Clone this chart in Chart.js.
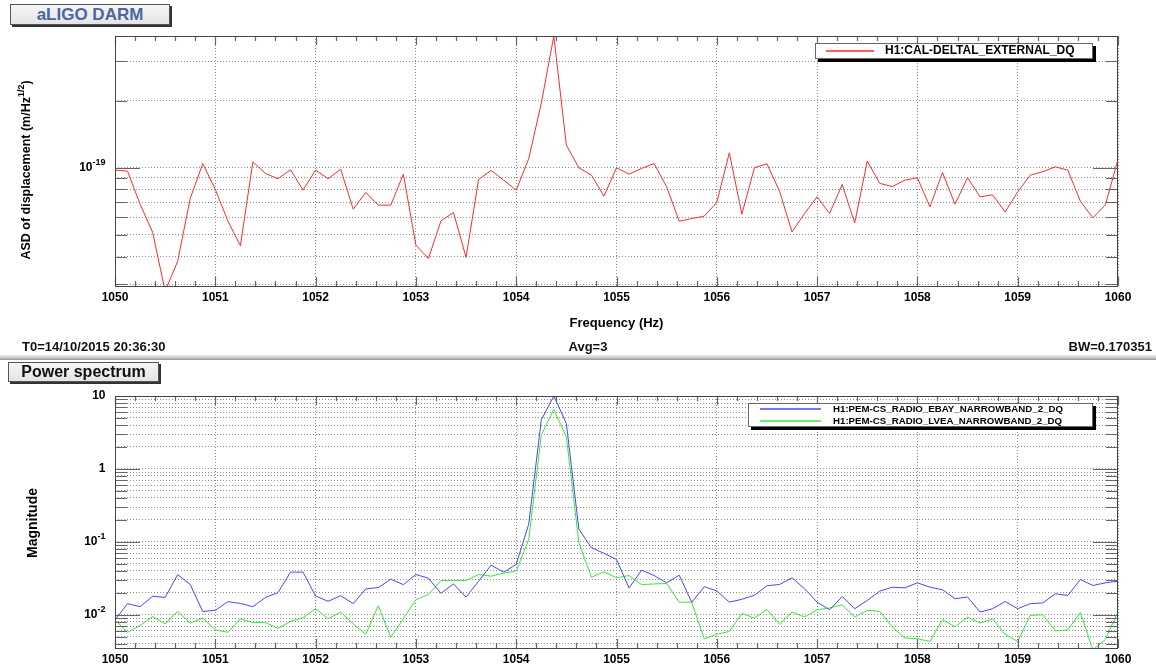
<!DOCTYPE html>
<html>
<head>
<meta charset="utf-8">
<title>aLIGO DARM</title>
<script src="https://cdn.jsdelivr.net/npm/chart.js@4.4.1/dist/chart.umd.min.js"></script>
<style>
  body { margin: 0; width: 1156px; height: 668px; position: relative; overflow: hidden; background: #fff;
         font-family: "Liberation Sans", Arial, Helvetica, sans-serif; font-weight: bold; }
  canvas { position: absolute; left: 0; top: 0; }
  .pave { position: absolute; box-sizing: border-box; text-align: center;
          background: linear-gradient(#f6f6f6, #e4e4e4); border: 1px solid #555; box-shadow: 2px 2px 0 #333; }
  #darmTitle { left: 10px; top: 4px; width: 160px; height: 21px; color: #4a67a4; font-size: 17px; line-height: 19px; }
  #psTitle { left: 8px; top: 362px; width: 151px; height: 20px; color: #111; font-size: 16px; line-height: 18px; }
  .info { position: absolute; top: 339px; font-size: 13px; line-height: 15px; color: #111; }
  #sep { position: absolute; left: 0; top: 355px; width: 1156px; height: 5px;
         background: linear-gradient(#ececec, #c4c4c4 60%, #909090); }
</style>
</head>
<body>
<div id="darmTitle" class="pave">aLIGO DARM</div>
<canvas id="darm" width="1156" height="668"></canvas>
<div class="info" style="left:22px">T0=14/10/2015 20:36:30</div>
<div class="info" style="left:588px;transform:translateX(-50%)">Avg=3</div>
<div class="info" style="right:4px">BW=0.170351</div>
<div id="sep"></div>
<div id="psTitle" class="pave">Power spectrum</div>
<canvas id="power" width="1156" height="668"></canvas>
<script>
const FONT = '"Liberation Sans", Arial, Helvetica, sans-serif';
const RED = '#ff2a2a', BLUE = '#4646ff', GREEN = '#36e836';

// frequency bins (Hz)
const freq = [
  1050, 1050.125, 1050.25, 1050.375, 1050.5, 1050.625, 1050.75, 1050.875,
  1051, 1051.125, 1051.25, 1051.375, 1051.5, 1051.625, 1051.75, 1051.875,
  1052, 1052.125, 1052.25, 1052.375, 1052.5, 1052.625, 1052.75, 1052.875,
  1053, 1053.125, 1053.25, 1053.375, 1053.5, 1053.625, 1053.75, 1053.875,
  1054, 1054.125, 1054.25, 1054.375, 1054.5, 1054.625, 1054.75, 1054.875,
  1055, 1055.125, 1055.25, 1055.375, 1055.5, 1055.625, 1055.75, 1055.875,
  1056, 1056.125, 1056.25, 1056.375, 1056.5, 1056.625, 1056.75, 1056.875,
  1057, 1057.125, 1057.25, 1057.375, 1057.5, 1057.625, 1057.75, 1057.875,
  1058, 1058.125, 1058.25, 1058.375, 1058.5, 1058.625, 1058.75, 1058.875,
  1059, 1059.125, 1059.25, 1059.375, 1059.5, 1059.625, 1059.75, 1059.875,
  1060
];

// H1:CAL-DELTAL_EXTERNAL_DQ, ASD (m/Hz^1/2)
const darmAsd = [
  9.76e-20, 9.66e-20, 6.87e-20, 5.14e-20, 2.8e-20, 3.81e-20, 7.28e-20, 1.045e-19,
  8.0e-20, 5.78e-20, 4.47e-20, 1.064e-19, 9.43e-20, 8.93e-20, 9.8e-20, 7.94e-20,
  9.76e-20, 8.93e-20, 9.86e-20, 6.52e-20, 7.75e-20, 6.8e-20, 6.8e-20, 9.36e-20,
  4.5e-20, 3.92e-20, 5.78e-20, 6.3e-20, 3.96e-20, 8.86e-20, 9.73e-20, 8.8e-20,
  7.94e-20, 1.10e-19, 1.945e-19, 3.9e-19, 1.264e-19, 1.0e-19, 9.27e-20, 7.46e-20,
  1.0e-19, 9.36e-20, 9.93e-20, 1.045e-19, 8.22e-20, 5.76e-20, 5.92e-20, 6.07e-20,
  6.99e-20, 1.168e-19, 6.19e-20, 1.0e-19, 1.042e-19, 7.86e-20, 5.16e-20, 6.24e-20,
  7.41e-20, 6.24e-20, 8.42e-20, 5.66e-20, 1.071e-19, 8.51e-20, 8.24e-20, 8.8e-20,
  9.02e-20, 6.68e-20, 9.53e-20, 6.87e-20, 9.02e-20, 7.41e-20, 7.56e-20, 6.34e-20,
  7.8e-20, 9.27e-20, 9.6e-20, 1.01e-19, 9.76e-20, 7.08e-20, 5.96e-20, 6.84e-20,
  1.09e-19
];

// H1:PEM-CS_RADIO_EBAY_NARROWBAND_2_DQ, magnitude
const ebayMag = [
  0.0085, 0.0142, 0.0129, 0.0179, 0.0173, 0.0356, 0.0259, 0.0111,
  0.0115, 0.0151, 0.0143, 0.0129, 0.0173, 0.0201, 0.0384, 0.0384,
  0.0181, 0.0153, 0.0183, 0.0142, 0.0226, 0.0236, 0.0307, 0.0259,
  0.0356, 0.0317, 0.0197, 0.0265, 0.0175, 0.0288, 0.048, 0.0384,
  0.049, 0.175, 4.67, 10, 4.2, 0.149, 0.0832, 0.0695,
  0.0574, 0.0233, 0.0409, 0.0345, 0.0274, 0.0349, 0.0148, 0.0243,
  0.0212, 0.0149, 0.0163, 0.0185, 0.025, 0.026, 0.0321, 0.0227,
  0.0149, 0.0117, 0.0178, 0.0121, 0.0157, 0.0211, 0.0239, 0.0234,
  0.0274, 0.0239, 0.022, 0.0166, 0.0175, 0.0109, 0.0121, 0.0152,
  0.0121, 0.0142, 0.0145, 0.0194, 0.0184, 0.0304, 0.0252, 0.0274,
  0.0288
];

// H1:PEM-CS_RADIO_LVEA_NARROWBAND_2_DQ, magnitude
const lveaMag = [
  0.0085, 0.00575, 0.0071, 0.0095, 0.0075, 0.0111, 0.0077, 0.009,
  0.0062, 0.00575, 0.0088, 0.0078, 0.0078, 0.0065, 0.0081, 0.0091,
  0.0121, 0.0088, 0.0109, 0.0075, 0.0054, 0.0133, 0.0049, 0.0088,
  0.0161, 0.0189, 0.0294, 0.0294, 0.0295, 0.0356, 0.0338, 0.0372,
  0.0396, 0.108, 2.9, 6.55, 2.75, 0.0975, 0.0327, 0.0388,
  0.0321, 0.0345, 0.0259, 0.0265, 0.0268, 0.0149, 0.0149, 0.00466,
  0.0054, 0.0059, 0.0104, 0.009, 0.0118, 0.0074, 0.0109, 0.0093,
  0.0117, 0.0124, 0.0137, 0.0093, 0.0115, 0.0111, 0.0068, 0.0048,
  0.0047, 0.0043, 0.0086, 0.0068, 0.0093, 0.0077, 0.0088, 0.0054,
  0.0043, 0.0098, 0.01, 0.006, 0.0062, 0.0107, 0.0033, 0.0046,
  0.0111
];

// axis ticks
const freqTicks = [1050, 1051, 1052, 1053, 1054, 1055, 1056, 1057, 1058, 1059, 1060];
const darmMajor = [1e-19];
const darmMinor = [3e-20, 4e-20, 5e-20, 6e-20, 7e-20, 8e-20, 9e-20, 2e-19, 3e-19];
const darmLabels = [{ value: 1e-19, text: '10', sup: '-19' }];
const powerMajor = [0.01, 0.1, 1, 10];
const powerMinor = [
  0.004, 0.005, 0.006, 0.007, 0.008, 0.009,
  0.02, 0.03, 0.04, 0.05, 0.06, 0.07, 0.08, 0.09,
  0.2, 0.3, 0.4, 0.5, 0.6, 0.7, 0.8, 0.9,
  2, 3, 4, 5, 6, 7, 8, 9
];
const powerLabels = [
  { value: 10, text: '10' },
  { value: 1, text: '1' },
  { value: 0.1, text: '10', sup: '-1' },
  { value: 0.01, text: '10', sup: '-2' }
];

function points(ys) {
  return freq.map((f, i) => ({ x: f, y: ys[i] }));
}

function tickLabel(ctx, xRight, y, text, sup) {
  ctx.textBaseline = 'middle';
  ctx.textAlign = 'right';
  ctx.fillStyle = '#000';
  let x = xRight;
  if (sup) {
    ctx.font = 'bold 9px ' + FONT;
    ctx.fillText(sup, x, y - 5);
    x -= ctx.measureText(sup).width;
  }
  ctx.font = 'bold 12px ' + FONT;
  ctx.fillText(text, x, y);
}

function yTitle(ctx, t) {
  const f = 'bold ' + t.size + 'px ' + FONT;
  const fs = 'bold ' + Math.round(t.size * 0.7) + 'px ' + FONT;
  ctx.save();
  ctx.translate(t.x, t.y);
  ctx.rotate(-Math.PI / 2);
  ctx.font = f;
  const w1 = ctx.measureText(t.main).width;
  const w3 = t.tail ? ctx.measureText(t.tail).width : 0;
  ctx.font = fs;
  const w2 = t.sup ? ctx.measureText(t.sup).width : 0;
  const x0 = -(w1 + w2 + w3) / 2;
  ctx.textBaseline = 'middle';
  ctx.textAlign = 'left';
  ctx.fillStyle = '#000';
  ctx.font = f;
  ctx.fillText(t.main, x0, 0);
  if (t.sup) {
    ctx.font = fs;
    ctx.fillText(t.sup, x0 + w1, -t.size * 0.4);
    ctx.font = f;
    ctx.fillText(t.tail, x0 + w1 + w2, 0);
  }
  ctx.restore();
}

// ROOT-like pad: frame, inward tick marks, tick labels, title, legend
const rootPad = {
  id: 'rootPad',
  afterDraw(chart, args, o) {
    const ctx = chart.ctx, a = chart.chartArea;
    const xs = chart.scales.x, ys = chart.scales.y;
    ctx.save();

    ctx.strokeStyle = '#666';
    ctx.lineWidth = 1.2;
    ctx.beginPath();
    for (let k = 0; k <= 50; k++) {
      const px = Math.round(xs.getPixelForValue(1050 + k * 0.2)) + 0.5;
      const len = k % 5 === 0 ? 9 : 5;
      ctx.moveTo(px, a.bottom); ctx.lineTo(px, a.bottom - len);
      ctx.moveTo(px, a.top); ctx.lineTo(px, a.top + len);
    }
    const yTick = (v, len) => {
      const py = Math.round(ys.getPixelForValue(v)) + 0.5;
      ctx.moveTo(a.left, py); ctx.lineTo(a.left + len, py);
      ctx.moveTo(a.right, py); ctx.lineTo(a.right - len, py);
    };
    o.yMajor.forEach(v => yTick(v, 25));
    o.yMinor.forEach(v => yTick(v, 12));
    ctx.stroke();

    ctx.strokeStyle = '#444';
    ctx.lineWidth = 1;
    ctx.strokeRect(a.left + 0.5, a.top + 0.5, a.right - a.left - 1, a.bottom - a.top);

    o.yLabels.forEach(l => tickLabel(ctx, 105.5, ys.getPixelForValue(l.value), l.text, l.sup));
    yTitle(ctx, o.yTitle);

    // legend box with black drop shadow
    const L = o.legend;
    ctx.fillStyle = '#000';
    ctx.fillRect(L.x + 3, L.y + 3, L.w, L.h);
    ctx.fillStyle = '#fff';
    ctx.fillRect(L.x, L.y, L.w, L.h);
    ctx.strokeStyle = '#666';
    ctx.lineWidth = 1;
    ctx.strokeRect(L.x + 0.5, L.y + 0.5, L.w - 1, L.h - 1);
    L.entries.forEach((e, i) => {
      const yy = L.rows[i];
      ctx.beginPath();
      ctx.strokeStyle = e.color;
      ctx.lineWidth = 1.5;
      ctx.moveTo(L.line[0], yy);
      ctx.lineTo(L.line[1], yy);
      ctx.stroke();
      ctx.fillStyle = '#000';
      ctx.font = 'bold ' + L.size + 'px ' + FONT;
      ctx.textAlign = 'left';
      ctx.textBaseline = 'middle';
      ctx.fillText(e.label, L.textX, yy);
    });
    ctx.restore();
  }
};

function xScale(height, title) {
  return {
    type: 'linear', min: 1050, max: 1060,
    afterBuildTicks: s => { s.ticks = freqTicks.map(v => ({ value: v })); },
    afterFit: s => { s.height = height; },
    ticks: { font: { family: FONT, size: 12, weight: 'bold' }, color: '#000', padding: 4,
             maxRotation: 0, autoSkip: false, callback: v => String(v) },
    grid: { color: '#8c8c8c', drawTicks: false },
    border: { display: false, dash: [1, 2] },
    title: title ? { display: true, text: title, color: '#000',
                     font: { family: FONT, size: 13, weight: 'bold' }, padding: { top: 0, bottom: 9 } }
                 : { display: false }
  };
}

function yScale(min, max, grid) {
  return {
    type: 'logarithmic', min: min, max: max,
    afterBuildTicks: s => { s.ticks = grid.map(v => ({ value: v })); },
    afterFit: s => { s.width = 115; },
    ticks: { display: false },
    grid: { color: '#8c8c8c', drawTicks: false },
    border: { display: false, dash: [1, 2] }
  };
}

const darmLabel = 'H1:CAL-DELTAL_EXTERNAL_DQ';
const ebayLabel = 'H1:PEM-CS_RADIO_EBAY_NARROWBAND_2_DQ';
const lveaLabel = 'H1:PEM-CS_RADIO_LVEA_NARROWBAND_2_DQ';

new Chart(document.getElementById('darm'), {
  type: 'line',
  data: {
    datasets: [{
      label: darmLabel, data: points(darmAsd),
      borderColor: RED, borderWidth: 1, pointRadius: 0, tension: 0, clip: 0
    }]
  },
  options: {
    responsive: false, animation: false, devicePixelRatio: 1,
    layout: { padding: { left: 0, top: 36, right: 38, bottom: 328 } },
    plugins: {
      legend: { display: false }, tooltip: { enabled: false },
      rootPad: {
        yMajor: darmMajor, yMinor: darmMinor, yLabels: darmLabels,
        yTitle: { x: 27, y: 170, size: 12.5, main: 'ASD of displacement (m/Hz', sup: '1/2', tail: ')' },
        legend: { x: 815, y: 43, w: 278, h: 16, line: [826, 874], textX: 885, rows: [51], size: 12,
                  entries: [{ label: darmLabel, color: RED }] }
      }
    },
    scales: {
      x: xScale(54, 'Frequency (Hz)'),
      y: yScale(2.95e-20, 3.9e-19, darmMinor.concat(darmMajor))
    }
  },
  plugins: [rootPad]
});

new Chart(document.getElementById('power'), {
  type: 'line',
  data: {
    datasets: [
      { label: ebayLabel, data: points(ebayMag),
        borderColor: BLUE, borderWidth: 1, pointRadius: 0, tension: 0, clip: 0 },
      { label: lveaLabel, data: points(lveaMag),
        borderColor: GREEN, borderWidth: 1, pointRadius: 0, tension: 0, clip: 0 }
    ]
  },
  options: {
    responsive: false, animation: false, devicePixelRatio: 1,
    layout: { padding: { left: 0, top: 396, right: 38, bottom: 0 } },
    plugins: {
      legend: { display: false }, tooltip: { enabled: false },
      rootPad: {
        yMajor: powerMajor, yMinor: powerMinor, yLabels: powerLabels,
        yTitle: { x: 33, y: 523, size: 14, main: 'Magnitude' },
        legend: { x: 748, y: 403, w: 345, h: 24, line: [760, 821], textX: 833, rows: [409, 421], size: 9.7,
                  entries: [{ label: ebayLabel, color: BLUE }, { label: lveaLabel, color: GREEN }] }
      }
    },
    scales: {
      x: xScale(20, null),
      y: yScale(0.0035, 10, powerMinor.concat(powerMajor))
    }
  },
  plugins: [rootPad]
});
</script>
</body>
</html>
